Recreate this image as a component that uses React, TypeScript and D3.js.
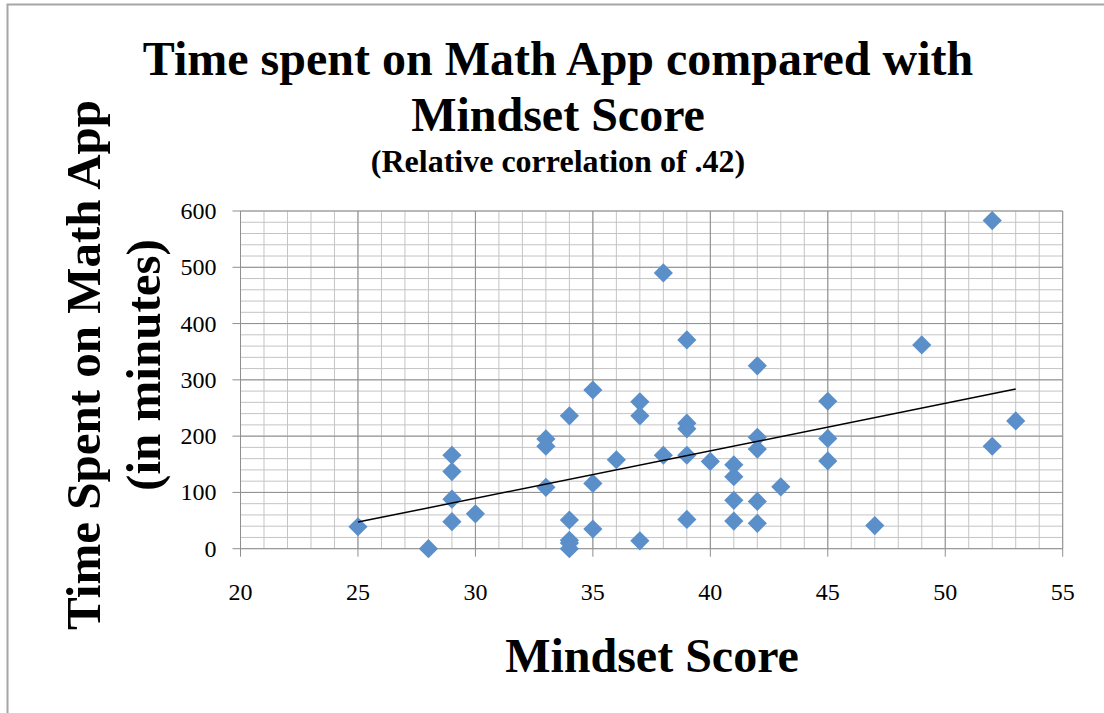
import React from "react";
import * as d3 from "d3";

const mindset = [25, 28, 29, 29, 29, 29, 30, 33, 33, 33, 34, 34, 34, 34, 34, 35, 35, 35, 36, 37, 37, 37, 38, 38, 39, 39, 39, 39, 39, 40, 41, 41, 41, 41, 42, 42, 42, 42, 42, 43, 45, 45, 45, 47, 49, 52, 52, 53];
const minutes = [39, 0, 166, 137, 88, 48, 62, 195, 182, 109, 236, 51, 15, 10, 0, 282, 116, 35, 158, 261, 236, 14, 490, 166, 371, 223, 213, 166, 52, 155, 149, 128, 86, 49, 325, 198, 177, 84, 45, 110, 262, 196, 156, 41, 362, 583, 182, 227];
const xTicks = [20, 25, 30, 35, 40, 45, 50, 55];
const yTicks = [0, 100, 200, 300, 400, 500, 600];
const titleLines = ["Time spent on Math App compared with", "Mindset Score"];
const subtitle = "(Relative correlation of .42)";
const yTitleLines = ["Time Spent on Math App", "(in minutes)"];
const xTitle = "Mindset Score";

export default function App() {
  const W = 1104, H = 713;
  const L = 240.5, R = 1062.7, T = 211, B = 548.7;
  const x = d3.scaleLinear().domain([20, 55]).range([L, R]);
  const y = d3.scaleLinear().domain([0, 600]).range([B, T]);
  const font = "'Liberation Serif', 'Times New Roman', serif";

  const pts = mindset.map((m, i) => [m, minutes[i]] as [number, number]);
  const mx = d3.mean(mindset)!, my = d3.mean(minutes)!;
  let sxy = 0, sxx = 0;
  pts.forEach(([a, b]) => { sxy += (a - mx) * (b - my); sxx += (a - mx) ** 2; });
  const slope = sxy / sxx, icpt = my - slope * mx;
  const xMin = d3.min(mindset)!, xMax = d3.max(mindset)!;
  const line = d3.line<number>().x(d => x(d)).y(d => y(icpt + slope * d));

  const minorX = d3.range(20, 56, 1);
  const minorY = d3.range(0, 601, 20);
  const diamond = d3.symbol().type(d3.symbolDiamond2).size(235)()!;

  return (
    <svg width={W} height={H} style={{ position: "absolute", left: 0, top: 0 }} fontFamily={font}>
      <rect x={0} y={0} width={W} height={H} fill="#fff" />
      <path d={`M7.5,${H} V4.5 H${W}`} fill="none" stroke="#a6a6a6" strokeWidth={2} />
      {minorX.map(v => (
        <line key={"mx" + v} x1={x(v)} x2={x(v)} y1={T} y2={B} stroke="#c4c4c4" strokeWidth={1} />
      ))}
      {minorY.map(v => (
        <line key={"my" + v} x1={L} x2={R} y1={y(v)} y2={y(v)} stroke="#c4c4c4" strokeWidth={1} />
      ))}
      {xTicks.map(v => (
        <line key={"Mx" + v} x1={x(v)} x2={x(v)} y1={T} y2={B + 8} stroke="#8f8f8f" strokeWidth={1} />
      ))}
      {yTicks.map(v => (
        <line key={"My" + v} x1={L - 8} x2={R} y1={y(v)} y2={y(v)} stroke="#8f8f8f" strokeWidth={1} />
      ))}
      {yTicks.map(v => (
        <text key={"yl" + v} x={L - 24} y={y(v) + 8} textAnchor="end" fontSize={24}>{v}</text>
      ))}
      {xTicks.map(v => (
        <text key={"xl" + v} x={x(v)} y={B + 51} textAnchor="middle" fontSize={24}>{v}</text>
      ))}
      {pts.map(([a, b], i) => (
        <path key={"p" + i} d={diamond} transform={`translate(${x(a)},${y(b)})`} fill="#5b8fca" />
      ))}
      <path d={line([xMin, xMax])!} stroke="#000" strokeWidth={1.5} fill="none" />
      <text x={558} y={75} textAnchor="middle" fontSize={48} fontWeight="bold">{titleLines[0]}</text>
      <text x={558} y={131} textAnchor="middle" fontSize={48} fontWeight="bold">{titleLines[1]}</text>
      <text x={558} y={172} textAnchor="middle" fontSize={32} fontWeight="bold">{subtitle}</text>
      <g transform="translate(100,365) rotate(-90)">
        <text x={0} y={0} textAnchor="middle" fontSize={49} fontWeight="bold">{yTitleLines[0]}</text>
        <text x={0} y={60} textAnchor="middle" fontSize={49} fontWeight="bold">{yTitleLines[1]}</text>
      </g>
      <text x={652} y={672} textAnchor="middle" fontSize={48} fontWeight="bold">{xTitle}</text>
    </svg>
  );
}
